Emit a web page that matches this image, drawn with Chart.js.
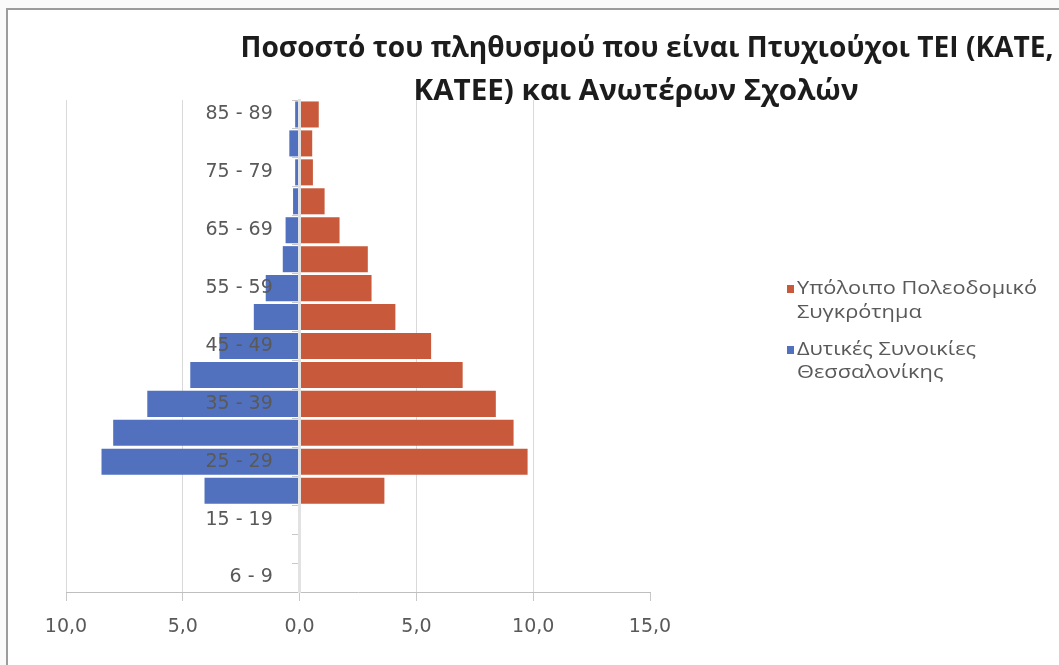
<!DOCTYPE html>
<html>
<head>
<meta charset="utf-8">
<script src="https://cdn.jsdelivr.net/npm/chart.js@4.4.1/dist/chart.umd.min.js"></script>
<style>
  html, body { margin: 0; padding: 0; background: #fafafa; overflow: hidden; }
  canvas { display: block; }
</style>
</head>
<body>
<canvas id="chartPyramid" width="1059" height="665"></canvas>
<script>
// age groups, top row first
const ageGroups = ['85 - 89', '80 - 84', '75 - 79', '70 - 74', '65 - 69', '60 - 64', '55 - 59', '50 - 54',
                   '45 - 49', '40 - 44', '35 - 39', '30 - 34', '25 - 29', '20 - 24', '15 - 19', '10 - 14', '6 - 9'];
// Υπόλοιπο Πολεοδομικό Συγκρότημα (%)
const restOfCity = [0.82, 0.54, 0.57, 1.07, 1.71, 2.92, 3.08, 4.1, 5.63, 6.98, 8.4, 9.16, 9.76, 3.63, 0, 0, 0];
// Δυτικές Συνοικίες Θεσσαλονίκης (%), drawn to the left
const westDistricts = [0.19, 0.44, 0.19, 0.28, 0.6, 0.72, 1.45, 1.96, 3.43, 4.68, 6.52, 7.98, 8.48, 4.07, 0, 0, 0];
const xTickLabels = ['10,0', '5,0', '0,0', '5,0', '10,0', '15,0'];
const titleLines = ['Ποσοστό του πληθυσμού που είναι Πτυχιούχοι ΤΕΙ (ΚΑΤΕ,', 'ΚΑΤΕΕ) και Ανωτέρων Σχολών'];
const seriesNames = [['Υπόλοιπο Πολεοδομικό', 'Συγκρότημα'], ['Δυτικές Συνοικίες', 'Θεσσαλονίκης']];

const RED = '#c85a3b';
const BLUE = '#5171bf';

const decor = {
    id: 'decor',
    beforeDraw(chart) {
        const ctx = chart.ctx;
        const w = chart.width, h = chart.height;
        ctx.save();
        ctx.fillStyle = '#fafafa';
        ctx.fillRect(0, 0, w, h);
        ctx.fillStyle = '#ffffff';
        ctx.fillRect(8, 10, w - 8, h - 10);
        // frame: only the left and top edges fall inside the picture
        ctx.fillStyle = '#9c9c9c';
        ctx.fillRect(6, 8, 2, h - 8);
        ctx.fillRect(6, 8, w - 6, 2);
        ctx.restore();
    },
    afterDraw(chart) {
        const ctx = chart.ctx;
        ctx.save();
        // title, squeezed to look like the narrow original face
        ctx.font = 'bold 29px "Open Sans"';
        ctx.fillStyle = '#1c1c1c';
        ctx.textAlign = 'center';
        ctx.textBaseline = 'alphabetic';
        const titlePos = [[647, 57, 813], [636, 100, 445]];
        titlePos.forEach((p, i) => {
            let sx = p[2] / ctx.measureText(titleLines[i]).width;
            ctx.save();
            ctx.translate(p[0], p[1]);
            ctx.scale(sx, 1);
            ctx.fillText(titleLines[i], 0, 0);
            ctx.restore();
        });

        // legend
        ctx.font = '19px "Open Sans"';
        ctx.textAlign = 'left';
        ctx.textBaseline = 'middle';
        let lx = 240 / ctx.measureText(seriesNames[0][0]).width;
        const rows = [[289, 313], [350, 373]];
        [RED, BLUE].forEach((c, i) => {
            ctx.fillStyle = c;
            ctx.fillRect(787, rows[i][0] - 4, 7, 8);
            ctx.fillStyle = '#595959';
            rows[i].forEach((y, j) => {
                ctx.save();
                ctx.translate(797, y);
                ctx.scale(lx, 1);
                ctx.fillText(seriesNames[i][j], 0, 0);
                ctx.restore();
            });
        });
        ctx.restore();
    }
};

const config = {
    type: 'bar',
    data: {
        labels: ageGroups,
        datasets: [{
            label: seriesNames[0].join(' '),
            data: restOfCity,
            backgroundColor: RED,
            barPercentage: 0.9,
            categoryPercentage: 1
        }, {
            label: seriesNames[1].join(' '),
            data: westDistricts.map(v => -v),
            backgroundColor: BLUE,
            barPercentage: 0.9,
            categoryPercentage: 1
        }]
    },
    options: {
        indexAxis: 'y',
        responsive: false,
        animation: false,
        devicePixelRatio: 1,
        layout: { padding: { left: 66, right: 409, top: 100, bottom: 0 } },
        plugins: {
            legend: { display: false },
            title: { display: false },
            tooltip: { enabled: false }
        },
        scales: {
            x: {
                type: 'linear',
                position: 'bottom',
                stacked: true,
                min: -10,
                max: 15,
                afterFit: (scale) => { scale.height = 73; },
                ticks: {
                    stepSize: 5,
                    padding: 15,
                    color: '#595959',
                    font: { family: 'DejaVu Sans', size: 19 },
                    callback: (v) => xTickLabels[(v + 10) / 5]
                },
                grid: {
                    color: (c) => c.tick && c.tick.value === 15 ? 'rgba(0,0,0,0)' : '#d9d9d9',
                    tickColor: '#c8c8c8',
                    tickLength: 9
                },
                border: { color: '#bfbfbf' }
            },
            // the axis line through zero, with the small marks between groups
            y: {
                position: { x: 0 },
                stacked: true,
                ticks: { display: false },
                grid: {
                    offset: true,
                    drawOnChartArea: false,
                    tickLength: 6,
                    tickColor: '#c8c8c8'
                },
                border: { color: '#e2e2e2', width: 3, z: 1 }
            },
            // group names, just left of the zero line and over the bars
            yNames: {
                type: 'category',
                position: { x: -1.15 },
                labels: ageGroups,
                grid: { display: false },
                border: { display: false },
                ticks: {
                    autoSkip: false,
                    z: 1,
                    color: '#595959',
                    font: { family: 'DejaVu Sans', size: 19 },
                    callback: (v, i) => i % 2 === 0 ? ageGroups[i] : ''
                }
            }
        }
    },
    plugins: [decor]
};

new Chart(document.getElementById('chartPyramid'), config);
</script>
</body>
</html>
